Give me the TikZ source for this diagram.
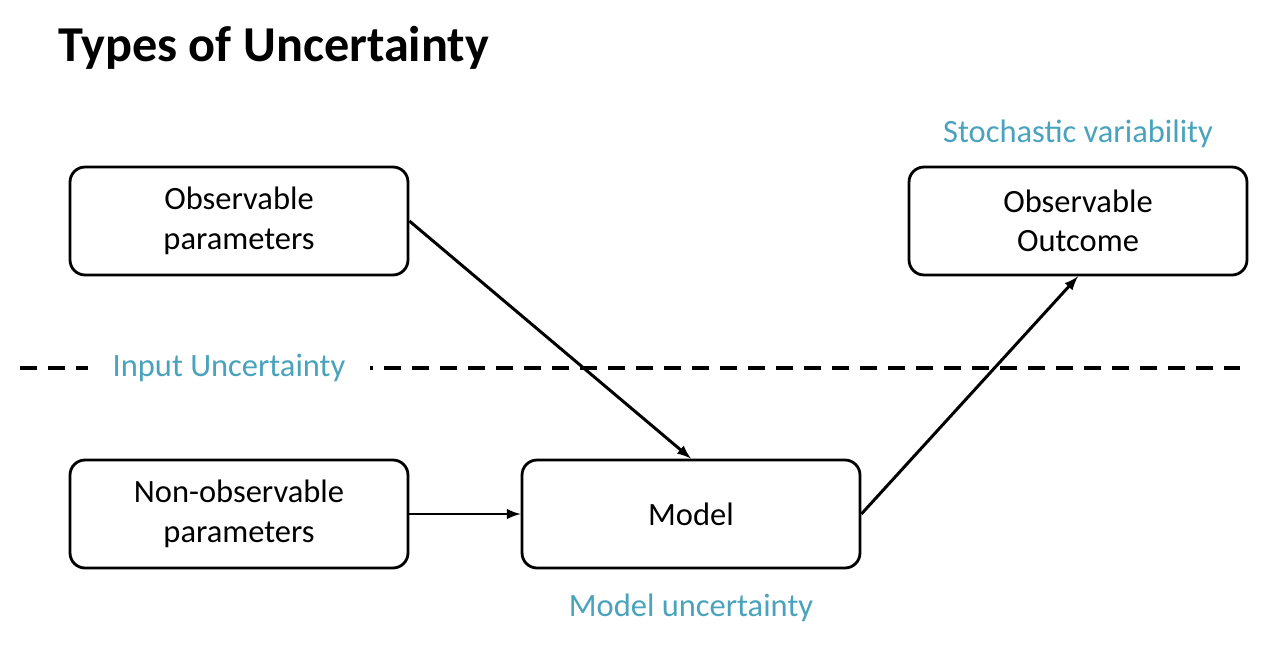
\documentclass[tikz,border=0pt]{standalone}
\usepackage{fontspec}
\setmainfont{Carlito}
\usetikzlibrary{arrows, positioning}
\definecolor{uncteal}{HTML}{4AA3BD}

\begin{document}
\begin{tikzpicture}[x=0.02cm, y=0.02cm,
  box/.style={rectangle, rounded corners=0.3cm, minimum width=6.76cm, minimum height=2.16cm, draw=black, line width=1.6pt, align=center, font=\fontsize{18.5}{22.5}\selectfont},
  uncert/.style={text=uncteal, font=\fontsize{18.5}{22.5}\selectfont},
  link/.style={-latex, line width=1.7pt}]
\useasboundingbox (0,0) rectangle (1278,-652);

% Title
\node[anchor=base west, font=\fontsize{28.6}{34}\selectfont\bfseries] (title) at (52,-62) {Types of Uncertainty};

% Boxes
\node[box] (obspar) at (239,-221) {Observable\\parameters};
\node[box] (outcome) at (1078,-221) {Observable\\Outcome};
\node[box] (nonobs) at (239,-514) {Non-observable\\parameters};
\node[box] (model) at (691,-514) {Model};

% Dashed divider with label on top
\coordinate (divleft) at (20,-368);
\coordinate (divright) at (1240,-368);
\draw[dash pattern=on 0.34cm off 0.22cm, line width=2pt] (divleft) -- (divright);
\node[uncert, fill=white, inner xsep=0.5cm] (inputunc) at (229,-368) {Input Uncertainty};

% Labels
\node[uncert] (stoch) at (1078,-134) {Stochastic variability};
\node[uncert] (modelunc) at (691,-608) {Model uncertainty};

% Arrows
\draw[link] (obspar.east) -- (model.north);
\draw[link] (nonobs) -- (model);
\draw[link] (model.east) -- (outcome.south);
\end{tikzpicture}
\end{document}
